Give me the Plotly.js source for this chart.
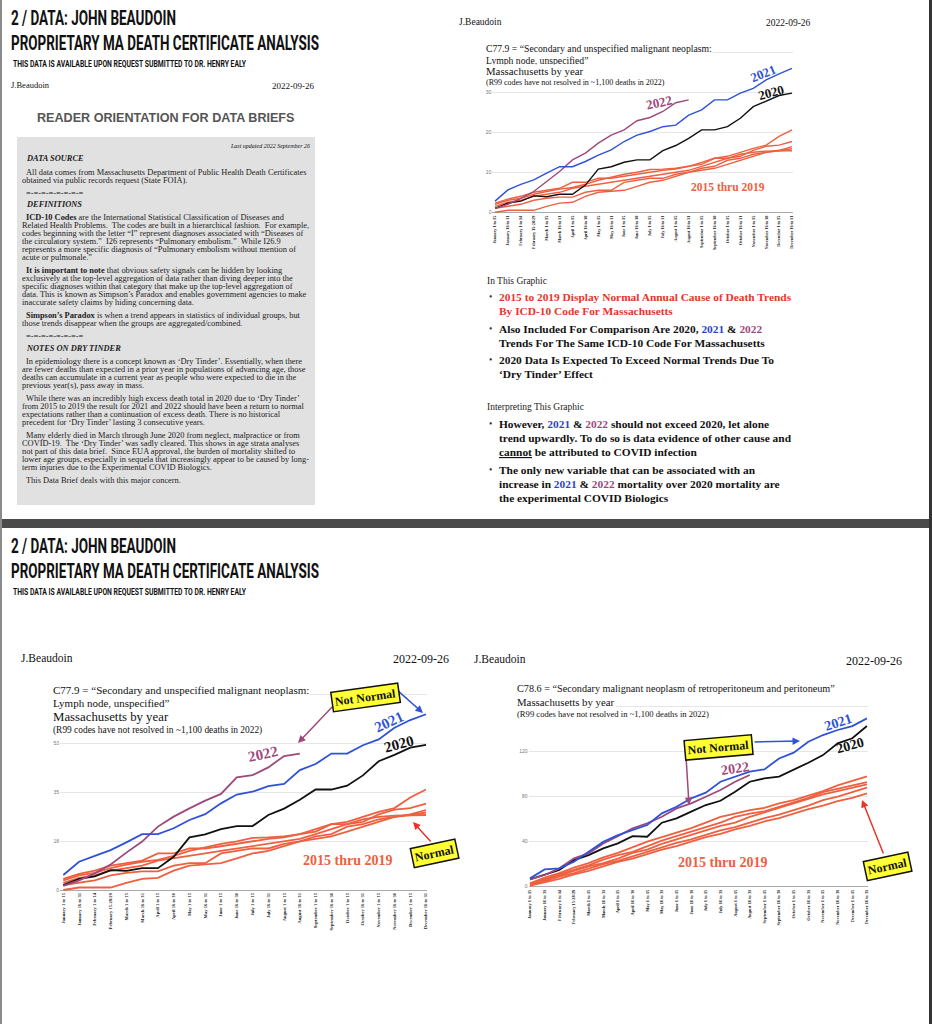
<!DOCTYPE html>
<html><head><meta charset="utf-8">
<script src="https://cdn.plot.ly/plotly-3.0.1.min.js"></script>
<style>html,body{margin:0;padding:0;background:#fff}#chart{width:932px;height:1024px}</style>
</head><body><div id="chart"></div>
<script>
// ---------- DATA ----------
const periods = ["January 1 to 15","January 16 to 31","February 1 to 14","February 15-28/29","March 1 to 15","March 16 to 31","April 1 to 15","April 16 to 30","May 1 to 15","May 16 to 31","June 1 to 15","June 16 to 30","July 1 to 15","July 16 to 31","August 1 to 15","August 16 to 31","September 1 to 15","September 16 to 30","October 1 to 15","October 16 to 31","November 1 to 15","November 16 to 30","December 1 to 15","December 16 to 31"];

// Top chart: C77.9 (axis 0-40)
const topY2020 = [1.0,2.3,2.8,4.1,3.9,4.5,4.5,6.8,10.8,11.4,12.5,13.1,13.1,15.4,16.7,18.5,20.6,20.6,21.4,23.5,26.4,27.7,29.2,29.8];
const topY2021 = [2.8,5.6,7.0,8.1,9.8,11.4,11.4,12.7,14.3,15.6,17.7,19.3,20.2,21.4,21.8,24.3,25.6,28.1,28.1,29.8,31.0,33.1,34.6,36.0];
const topY2022 = [1.0,2.0,3.5,5.2,7.7,10.2,13.1,14.8,17.3,19.3,20.6,22.9,23.7,25.2,27.4,28.1];
const topY2015 = [0,0.5,0.5,0.5,1.5,2.3,2.5,4.0,5.0,5.3,5.5,6.5,7.5,8.0,9.0,10.0,10.5,11.0,12.0,13.0,14.0,15.0,15.4,15.9];
const topY2016 = [1.0,1.5,2.0,3.0,3.5,3.8,3.8,5.0,5.5,5.5,7.5,8.0,8.5,8.5,9.5,10.0,11.0,11.5,13.0,13.5,14.5,15.0,15.5,16.4];
const topY2017 = [1.5,2.5,3.0,4.0,4.5,5.0,6.0,6.5,7.0,7.5,8.0,8.5,9.0,9.5,10.0,10.5,11.5,12.5,13.5,14.0,15.5,16.5,16.8,17.7];
const topY2018 = [2.0,3.0,3.5,4.5,5.2,5.8,6.2,7.0,8.0,8.7,9.5,10.0,10.7,10.8,11.0,11.5,12.0,13.5,13.5,14.5,15.0,15.3,15.4,15.4];
const topY2019 = [2.3,3.3,4.0,5.0,5.5,6.0,7.5,7.5,8.5,8.5,9.0,9.5,10.0,10.5,10.8,11.5,12.5,13.5,14.0,15.0,16.0,16.8,19.0,20.6];
const topTickVals = [0,10,20,30,40];
const topTickText = ["0","10","20","30",""];

// Bottom-left chart: C77.9 (axis 0-53)
const blY2020 = [1.8,4.0,4.9,7.2,6.9,7.9,7.9,12.0,19.0,20.1,22.0,23.1,23.1,27.1,29.4,32.6,36.3,36.3,37.7,41.4,46.5,48.8,51.4,52.4];
const blY2021 = [5.4,10.2,12.3,14.4,17.2,20.2,20.2,22.3,25.3,27.4,31.3,34.5,35.5,37.5,38.3,43.3,45.5,49.3,49.3,52.3,54.4,58.6,61.4,63.5];
const blY2022 = [1.5,3.5,6.0,9.2,13.5,17.5,22.9,26.5,29.5,32.3,34.7,40.7,41.5,44.3,48.4,49.3];
const blY2015 = [0,0.9,0.9,0.9,2.6,4.0,4.4,7.0,8.8,9.3,9.7,11.4,13.2,14.1,15.8,17.6,18.5,19.4,21.1,22.9,24.6,26.4,27.1,28.0];
const blY2016 = [1.8,2.6,3.5,5.3,6.2,6.7,6.7,8.8,9.7,9.7,13.2,14.1,15.0,15.0,16.7,17.6,19.4,20.2,22.9,23.8,25.5,26.4,27.3,28.9];
const blY2017 = [2.6,4.4,5.3,7.0,7.9,8.8,10.6,11.4,12.3,13.2,14.1,15.0,15.8,16.7,17.6,18.5,20.2,22.0,23.8,24.6,27.3,29.0,29.6,31.2];
const blY2018 = [3.5,5.3,6.2,7.9,9.2,10.2,10.9,12.3,14.1,15.3,16.7,17.6,18.8,19.0,19.4,20.2,21.1,23.8,23.8,25.5,26.4,26.9,27.1,27.1];
const blY2019 = [4.0,5.8,7.0,8.8,9.7,10.6,13.2,13.2,15.0,15.0,15.8,16.7,17.6,18.5,19.0,20.2,22.0,23.8,24.6,26.4,28.2,29.6,33.4,36.3];
const blTickVals = [0,17.67,35.33,53,70.67];
const blTickText = ["0","18","35","53",""];

// Bottom-right chart: C78.6 (axis 0-120)
const brY2020 = [6.5,10.4,14.8,23.7,28.1,34.1,38.5,45.0,44.4,56.9,60.7,66.7,72.6,76.4,84.4,93.3,96.3,97.8,103.7,110.2,117.0,127.4,131.9,142.8];
const brY2021 = [7.4,15.4,16.3,22.2,31.1,40.0,45.9,50.4,54.8,65.2,71.1,78.5,83.6,93.3,97.8,102.2,104.3,114.0,119.1,128.9,134.8,139.3,142.8,149.6];
const brY2022 = [6.5,10.4,16.3,25.2,29.6,38.5,45.0,51.9,56.3,62.2,69.6,74.1,80.0,85.9,93.3,99.3];
const brY2015 = [3,8,12,17,21,26,30,35,40,44,48,52,57,62,65,68,70,74,77,81,85,90,94,98];
const brY2016 = [2,7,11,15,19,24,28,31,36,41,45,49,53,57,62,65,67,71,75,79,84,87,90,93];
const brY2017 = [2,6,10,14,18,21,25,30,33,38,42,46,50,54,57,62,66,70,74,78,82,85,88,91];
const brY2018 = [1,5,9,12,16,20,23,27,31,35,39,42,46,50,53,57,61,64,68,72,77,80,84,88];
const brY2019 = [1,4,7,11,14,18,22,25,29,33,36,40,44,47,51,54,58,61,65,69,72,76,79,83];
const brTickVals = [0,40,80,120,160];
const brTickText = ["0","40","80","120",""];

// ---------- STYLE / LAYOUT ----------
const W = 932, H = 1024;
const X = p => p / W;
const Y = p => 1 - p / H;
const SERIF = "Liberation Serif, Times New Roman, serif";
const SANS = "Liberation Sans, Arial, sans-serif";
const NARROW = "Roboto, Liberation Sans, sans-serif";
const C = {o:"#ee6040", b:"#2f52d8", p:"#9c4a7c", k:"#111111", red:"#e8352b", tb:"#2b45c8", tp:"#a0487a"};

const traces = [];
function addSet(ax, ys, w) {
  const orange = [ys.o15, ys.o16, ys.o17, ys.o18, ys.o19];
  orange.forEach(v => traces.push({x: periods.slice(0, v.length), y: v, xaxis: "x"+ax, yaxis: "y"+ax, mode: "lines", line: {color: C.o, width: w}}));
  traces.push({x: periods.slice(0, ys.k.length), y: ys.k, xaxis: "x"+ax, yaxis: "y"+ax, mode: "lines", line: {color: C.k, width: w}});
  traces.push({x: periods.slice(0, ys.p.length), y: ys.p, xaxis: "x"+ax, yaxis: "y"+ax, mode: "lines", line: {color: C.p, width: w}});
  traces.push({x: periods.slice(0, ys.b.length), y: ys.b, xaxis: "x"+ax, yaxis: "y"+ax, mode: "lines", line: {color: C.b, width: w}});
}
addSet("", {o15: topY2015, o16: topY2016, o17: topY2017, o18: topY2018, o19: topY2019, k: topY2020, b: topY2021, p: topY2022}, 1.4);
addSet("2", {o15: blY2015, o16: blY2016, o17: blY2017, o18: blY2018, o19: blY2019, k: blY2020, b: blY2021, p: blY2022}, 1.8);
addSet("3", {o15: brY2015, o16: brY2016, o17: brY2017, o18: brY2018, o19: brY2019, k: brY2020, b: brY2021, p: brY2022}, 1.8);

function axesFor(first, step, xr, zero, s, yr, tv, tt, anchorX, anchorY, tf) {
  const xa = {
    domain: [X(first + xr[0]*step), X(first + xr[1]*step)], anchor: anchorY, type: "category",
    range: xr, tickangle: -90, showgrid: false, zeroline: false, showline: false, ticks: "",
    tickfont: {family: SERIF, size: tf, color: "#222", weight: "bold"}, fixedrange: true
  };
  const ya = {
    domain: [Y(zero - yr[0]*s), Y(zero - yr[1]*s)], anchor: anchorX, range: yr,
    tickmode: "array", tickvals: tv, ticktext: tt, showgrid: true, gridcolor: "#e6e6e6", gridwidth: 1,
    zeroline: true, zerolinecolor: "#aaaaaa", zerolinewidth: 1, showline: false, ticks: "",
    tickfont: {family: SANS, size: 5, color: "#777"}, fixedrange: true
  };
  return [xa, ya];
}
const [xa1, ya1] = axesFor(495, 12.913, [-0.2, 23.05], 212.3, 4.0, [-0.4, 41], topTickVals, topTickText, "x", "y", 4.2);
const [xa2, ya2] = axesFor(63.3, 15.77, [-0.2, 23.05], 890, 2.768, [-0.4, 72], blTickVals, blTickText, "x2", "y2", 4.6);
const [xa3, ya3] = axesFor(530, 14.65, [-0.1, 23.05], 886.7, 1.125, [-1, 162], brTickVals, brTickText, "x3", "y3", 4.4);

const ann = [];
const squeeze = []; // [annotation index, target text width in px]
function t(x, y, text, size, o) {
  o = o || {};
  const a = {xref: "paper", yref: "paper", x: X(x), y: Y(y), text: text, showarrow: false,
    xanchor: o.xa || "left", yanchor: "middle", borderpad: o.pad === undefined ? 0 : o.pad,
    font: {family: o.f || SERIF, size: size, color: o.c || "#111", weight: o.w || "normal", style: o.i ? "italic" : "normal"}};
  if (o.ang !== undefined) a.textangle = o.ang;
  if (o.bg) a.bgcolor = o.bg;
  if (o.bc) { a.bordercolor = o.bc; a.borderwidth = o.bw || 1; }
  if (o.len) { a.align = "left"; squeeze.push([ann.length, o.len]); }
  ann.push(a);
}
function arrow(hx, hy, tx, ty, col) {
  ann.push({xref: "paper", yref: "paper", x: X(hx), y: Y(hy), ax: tx - hx, ay: ty - hy, axref: "pixel", ayref: "pixel",
    text: "", showarrow: true, arrowhead: 2, arrowsize: 1, arrowwidth: 1.5, arrowcolor: col});
}

// slide headers (condensed display face)
[0, 528].forEach(off => {
  t(10, 18 + off, "2 / DATA: JOHN BEAUDOIN", 20, {f: NARROW, w: "bold", c: "#111", len: 165});
  t(10, 43 + off, "PROPRIETARY MA DEATH CERTIFICATE ANALYSIS", 20, {f: NARROW, w: "bold", c: "#111", len: 308});
  t(12, 64 + off, "THIS DATA IS AVAILABLE UPON REQUEST SUBMITTED TO DR. HENRY EALY", 8.5, {f: NARROW, w: "bold", c: "#111", len: 233});
});

// top-left panel
t(10, 85, "J.Beaudoin", 8.5);
t(315, 86, "2022-09-26", 9, {xa: "right"});
t(165, 118, "READER ORIENTATION FOR DATA BRIEFS", 12.6, {f: SANS, w: "bold", c: "#555", xa: "center"});
t(311, 146, "Last updated 2022 September 26", 6, {i: true, xa: "right"});
const boxLines = [
  [158, "<b><i>DATA SOURCE</i></b>", 25],
  [172, "All data comes from Massachusetts Department of Public Health Death Certificates", 25],
  [180, "obtained via public records request (State FOIA).", 21],
  [193, "=-=-=-=-=-=-=-=", 25],
  [204, "<b><i>DEFINITIONS</i></b>", 25],
  [217, "<b>ICD-10 Codes</b> are the International Statistical Classification of Diseases and", 25],
  [225, "Related Health Problems.  The codes are built in a hierarchical fashion.  For example,", 21],
  [233, "codes beginning with the letter “I” represent diagnoses associated with “Diseases of", 21],
  [241, "the circulatory system.”  I26 represents “Pulmonary embolism.”  While I26.9", 21],
  [249, "represents a more specific diagnosis of “Pulmonary embolism without mention of", 21],
  [257, "acute or pulmonale.”", 21],
  [270, "<b>It is important to note</b> that obvious safety signals can be hidden by looking", 25],
  [278, "exclusively at the top-level aggregation of data rather than diving deeper into the", 21],
  [286, "specific diagnoses within that category that make up the top-level aggregation of", 21],
  [294, "data. This is known as Simpson’s Paradox and enables government agencies to make", 21],
  [302, "inaccurate safety claims by hiding concerning data.", 21],
  [315, "<b>Simpson’s Paradox</b> is when a trend appears in statistics of individual groups, but", 25],
  [323, "those trends disappear when the groups are aggregated/combined.", 21],
  [336, "=-=-=-=-=-=-=-=", 25],
  [348, "<b><i>NOTES ON DRY TINDER</i></b>", 25],
  [361, "In epidemiology there is a concept known as ‘Dry Tinder’. Essentially, when there", 25],
  [369, "are fewer deaths than expected in a prior year in populations of advancing age, those", 21],
  [377, "deaths can accumulate in a current year as people who were expected to die in the", 21],
  [385, "previous year(s), pass away in mass.", 21],
  [398, "While there was an incredibly high excess death total in 2020 due to ‘Dry Tinder’", 25],
  [406, "from 2015 to 2019 the result for 2021 and 2022 should have been a return to normal", 21],
  [414, "expectations rather than a continuation of excess death. There is no historical", 21],
  [422, "precedent for ‘Dry Tinder’ lasting 3 consecutive years.", 21],
  [435, "Many elderly died in March through June 2020 from neglect, malpractice or from", 25],
  [443, "COVID-19.  The ‘Dry Tinder’ was sadly cleared. This shows in age strata analyses", 21],
  [451, "not part of this data brief.  Since EUA approval, the burden of mortality shifted to", 21],
  [459, "lower age groups, especially in sequela that increasingly appear to be caused by long-", 21],
  [467, "term injuries due to the Experimental COVID Biologics.", 21],
  [480, "This Data Brief deals with this major concern.", 25]
];
boxLines.forEach(l => t(l[2], l[0], l[1], 8.4, {c: "#222"}));

// top-right panel
t(458, 22, "J.Beaudoin", 9.5);
t(812, 23, "2022-09-26", 9.5, {xa: "right"});
t(485, 48, "C77.9 = “Secondary and unspecified malignant neoplasm:", 9.7, {bg: "#fff"});
t(485, 60, "Lymph node, unspecified”", 9.7, {bg: "#fff"});
t(485, 71, "Massachusetts by year", 10.8, {bg: "#fff"});
t(485, 82, "(R99 codes have not resolved in ~1,100 deaths in 2022)", 8, {bg: "#fff"});
t(659, 102, "2022", 13, {w: "bold", c: C.tp, xa: "center", ang: -12});
t(763, 73, "2021", 13, {w: "bold", c: C.b, xa: "center", ang: -22});
t(771, 92, "2020", 13, {w: "bold", c: C.k, xa: "center", ang: -15});
t(728, 187, "2015 thru 2019", 11.5, {w: "bold", c: C.o, xa: "center"});

const blue = s => '<span style="color:' + C.tb + '">' + s + '</span>';
const purp = s => '<span style="color:' + C.tp + '">' + s + '</span>';
t(486, 281, "In This Graphic", 9.5, {c: "#222"});
const bul = [
  [297, "2015 to 2019 Display Normal Annual Cause of Death Trends", true, C.red],
  [311, "By ICD-10 Code For Massachusetts", false, C.red],
  [329, "Also Included For Comparison Are 2020, " + blue("2021") + " &amp; " + purp("2022"), true],
  [343, "Trends For The Same ICD-10 Code For Massachusetts", false],
  [360, "2020 Data Is Expected To Exceed Normal Trends Due To", true],
  [374, "‘Dry Tinder’ Effect", false],
  [424, "However, " + blue("2021") + " &amp; " + purp("2022") + " should not exceed 2020, let alone", true],
  [438, "trend upwardly. To do so is data evidence of other cause and", false],
  [452, '<span style="text-decoration:underline">cannot</span> be attributed to COVID infection', false],
  [470, "The only new variable that can be associated with an", true],
  [484, "increase in " + blue("2021") + " &amp; " + purp("2022") + " mortality over 2020 mortality are", false],
  [498, "the experimental COVID Biologics", false]
];
bul.forEach(b => {
  if (b[2]) t(488, b[0], "•", 9.5, {c: "#333"});
  t(498, b[0], b[1], 11.4, {w: "bold", c: b[3] || "#111"});
});
t(486, 407, "Interpreting This Graphic", 9.5, {c: "#222"});

// bottom-left panel
t(20, 658, "J.Beaudoin", 11.5);
t(450, 659, "2022-09-26", 12, {xa: "right"});
t(52, 690, "C77.9 = “Secondary and unspecified malignant neoplasm:", 11, {bg: "#fff"});
t(52, 703, "Lymph node, unspecified”", 11, {bg: "#fff"});
t(52, 717, "Massachusetts by year", 12.8, {bg: "#fff"});
t(52, 730, "(R99 codes have not resolved in ~1,100 deaths in 2022)", 9.4, {bg: "#fff"});
arrow(298, 743, 334, 705, C.p);
arrow(423, 713, 396, 689, C.b);
arrow(413, 822, 432, 843, C.red);
t(365, 697, "Not Normal", 12, {w: "bold", xa: "center", ang: -8, bg: "#ffff33", bc: "#111", bw: 1.5, pad: 2});
t(434, 853, "Normal", 12, {w: "bold", xa: "center", ang: -12, bg: "#ffff33", bc: "#111", bw: 1.5, pad: 2});
t(263, 754, "2022", 15, {w: "bold", c: C.tp, xa: "center", ang: -12});
t(389, 722, "2021", 15, {w: "bold", c: C.b, xa: "center", ang: -25});
t(399, 744, "2020", 15, {w: "bold", c: C.k, xa: "center", ang: -15});
t(347, 860, "2015 thru 2019", 14, {w: "bold", c: C.o, xa: "center"});

// bottom-right panel
t(473, 659, "J.Beaudoin", 11.5);
t(903, 661, "2022-09-26", 12, {xa: "right"});
t(516, 688, "C78.6 = “Secondary malignant neoplasm of retroperitoneum and peritoneum”", 10.2, {bg: "#fff"});
t(516, 702, "Massachusetts by year", 10.8, {bg: "#fff"});
t(516, 714, "(R99 codes have not resolved in ~1,100 deaths in 2022)", 8.6, {bg: "#fff"});
arrow(800, 741, 753, 742, C.b);
arrow(689, 805, 686, 756, C.p);
arrow(862, 800, 884, 855, C.red);
t(718, 747, "Not Normal", 12, {w: "bold", xa: "center", ang: -5, bg: "#ffff33", bc: "#111", bw: 1.5, pad: 2});
t(887, 866, "Normal", 12, {w: "bold", xa: "center", ang: -12, bg: "#ffff33", bc: "#111", bw: 1.5, pad: 2});
t(735, 768, "2022", 14, {w: "bold", c: C.tp, xa: "center", ang: -8});
t(838, 722, "2021", 14, {w: "bold", c: C.b, xa: "center", ang: -18});
t(850, 745, "2020", 14, {w: "bold", c: C.k, xa: "center", ang: -15});
t(722, 862, "2015 thru 2019", 14, {w: "bold", c: C.o, xa: "center"});

const shapes = [
  {type: "rect", xref: "paper", yref: "paper", x0: X(17), x1: X(315), y0: Y(505), y1: Y(137), fillcolor: "#e1e1e1", line: {width: 0}, layer: "below"},
  {type: "rect", xref: "paper", yref: "paper", x0: 0, x1: 1, y0: Y(528), y1: Y(519), fillcolor: "#4a4a4a", line: {width: 0}},
  {type: "rect", xref: "paper", yref: "paper", x0: 0, x1: X(2), y0: 0, y1: 1, fillcolor: "#8a8a8a", line: {width: 0}},
  {type: "rect", xref: "paper", yref: "paper", x0: X(929), x1: 1, y0: 0, y1: 1, fillcolor: "#333", line: {width: 0}}
];

const layout = {
  width: W, height: H, margin: {l: 0, r: 0, t: 0, b: 0}, paper_bgcolor: "#fff", plot_bgcolor: "rgba(0,0,0,0)",
  showlegend: false, hovermode: false,
  xaxis: xa1, yaxis: ya1, xaxis2: xa2, yaxis2: ya2, xaxis3: xa3, yaxis3: ya3,
  annotations: ann, shapes: shapes
};
Plotly.newPlot("chart", traces, layout, {displayModeBar: false, staticPlot: true}).then(gd => {
  // condense the display headers horizontally to the narrow width of the original face
  squeeze.forEach(([idx, len]) => {
    const el = gd.querySelector('.annotation[data-index="' + idx + '"] text.annotation-text');
    if (el) { el.setAttribute("textLength", len); el.setAttribute("lengthAdjust", "spacingAndGlyphs"); }
  });
});
</script></body></html>
